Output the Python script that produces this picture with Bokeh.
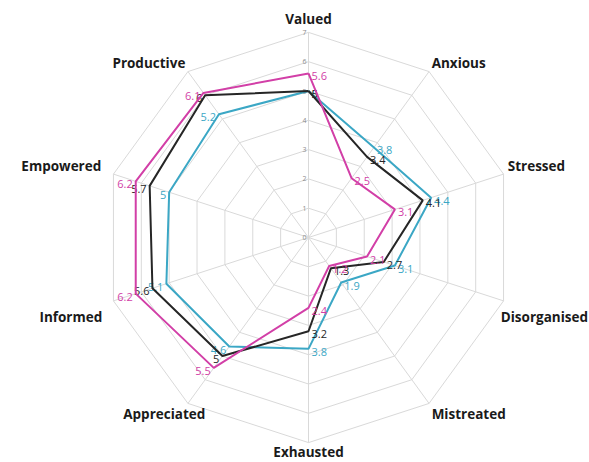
import math
from bokeh.plotting import figure
from bokeh.models import Range1d, ColumnDataSource
from bokeh.core.properties import value
from bokeh.embed import file_html
from bokeh.resources import INLINE

categories = ["Valued", "Anxious", "Stressed", "Disorganised", "Mistreated",
              "Exhausted", "Appreciated", "Informed", "Empowered", "Productive"]
series_black = [5, 3.4, 4.1, 2.7, 1.3, 3.2, 5, 5.6, 5.7, 6]
series_magenta = [5.6, 2.5, 3.1, 2.1, 1.2, 2.4, 5.5, 6.2, 6.2, 6.1]
series_teal = [5, 3.8, 4.4, 3.1, 1.9, 3.8, 4.6, 5.1, 5, 5.2]
tick_values = [0, 1, 2, 3, 4, 5, 6, 7]
r_max = 7

W, H = 589, 462
CX, CY = 308, 237
S = 29.3  # px per unit

p = figure(width=W, height=H, output_backend="svg", toolbar_location=None,
           x_range=Range1d(-CX / S, (W - CX) / S),
           y_range=Range1d(-(H - CY) / S, CY / S),
           min_border=0)
p.axis.visible = False
p.grid.visible = False
p.outline_line_color = None
p.background_fill_color = "white"

n = len(categories)
angles = [2 * math.pi * k / n for k in range(n)]


def pos(r, a):
    return r * math.sin(a), r * math.cos(a)


grid_col = "#d9d9d9"
# rings
for t in tick_values[1:]:
    xs = [pos(t, a)[0] for a in angles] + [pos(t, angles[0])[0]]
    ys = [pos(t, a)[1] for a in angles] + [pos(t, angles[0])[1]]
    p.line(xs, ys, line_color=grid_col, line_width=1)
# spokes
p.segment(x0=[0] * n, y0=[0] * n,
          x1=[pos(r_max, a)[0] for a in angles],
          y1=[pos(r_max, a)[1] for a in angles],
          line_color=grid_col, line_width=1)

# tick labels
p.text(x=[0] * len(tick_values), y=tick_values, text=[str(t) for t in tick_values],
       text_font=value("Open Sans"), text_font_size="7px", text_color="#8c8c8c",
       text_align="center", text_baseline="middle", x_offset=-4)

series = [(series_teal, "#3ba7c5"), (series_black, "#262626"), (series_magenta, "#d23fa7")]
for vals, col in series:
    xs = [pos(v, a)[0] for v, a in zip(vals, angles)]
    ys = [pos(v, a)[1] for v, a in zip(vals, angles)]
    p.line(xs + [xs[0]], ys + [ys[0]], line_color=col, line_width=2)
    left_idx = [i for i, a in enumerate(angles) if math.sin(a) < -0.1]
    right_idx = [i for i in range(n) if i not in left_idx]
    for idx, align, xo in ((left_idx, "right", -3), (right_idx, "left", 3)):
        src = ColumnDataSource(dict(x=[xs[i] for i in idx], y=[ys[i] for i in idx],
                                    t=[("%g" % vals[i]) for i in idx]))
        p.text(x="x", y="y", text="t", source=src, text_font=value("Open Sans"),
               text_font_size="11px", text_color=col, text_align=align,
               text_baseline="middle", x_offset=xo, y_offset=3)

# category labels
pad = 0.15
for c, a in zip(categories, angles):
    s, co = math.sin(a), math.cos(a)
    x, y = pos(r_max + (pad if abs(s) > 0.1 or co > 0 else 0.0), a)
    align = "left" if s > 0.1 else ("right" if s < -0.1 else "center")
    base = "bottom" if co > 0.1 else ("top" if co < -0.1 else "middle")
    xo, yo = 0, 0
    if co > 0.1 and abs(s) > 0.1:
        yo = 4
    if abs(co) < 0.5:
        yo = 6 if co < 0 else 2
        if co < 0:
            xo = -7
        elif s < 0:
            xo = -8
    if co < -0.5 and s < -0.1:
        xo = 20
    if co < -0.5 and abs(s) > 0.1:
        yo = -2
    p.text(x=[x], y=[y], text=[c], text_font=value("Open Sans"), text_font_style="bold",
           text_font_size="13.5px", text_color="#1a1a1a", text_align=align, text_baseline=base,
           y_offset=yo, x_offset=xo)

open("out.html", "w").write(file_html(p, INLINE))
